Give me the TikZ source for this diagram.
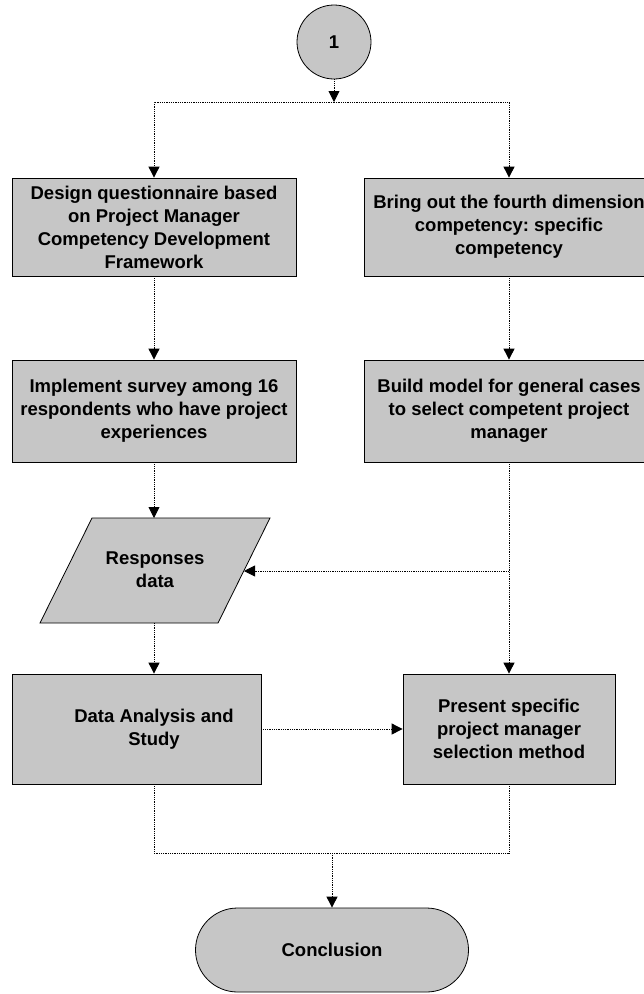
\documentclass[tikz,border=0pt]{standalone}
\usepackage{fontspec}
\setmainfont{Liberation Sans}
\usetikzlibrary{arrows.meta,shapes.misc}
\frenchspacing

\begin{document}
\begin{tikzpicture}[x=1pt,y=-1pt,
  flow/.style={draw=black, line width=0.8pt, fill=gray!45, inner sep=0pt,
    font=\bfseries\fontsize{18.5}{23}\selectfont, align=center},
  flowtext/.style={inner sep=0pt, font=\bfseries\fontsize{18.5}{23}\selectfont, align=center},
  plain/.style={line width=0.9pt, dash pattern=on 1pt off 0.8pt},
  link/.style={plain, -{Triangle[length=11pt,width=11pt]}}
]
\useasboundingbox (0,0) rectangle (644,994);
\clip (0,0) rectangle (644,994);

% start connector
\node[flow, circle, minimum size=74pt] (start) at (334,42) {1};
\coordinate (fork) at (334,102);

% left branch
\node[flow, minimum width=284pt, minimum height=98pt] (q) at (154,227)
  {Design questionnaire based\\on Project Manager\\Competency Development\\Framework};
\node[flow, minimum width=284pt, minimum height=102pt] (imp) at (154,411)
  {Implement survey among 16\\respondents who have project\\experiences};

% data (parallelogram)
\draw[flow] (40,623) -- (218,623) -- (270,518) -- (92,518) -- cycle;
\node[flowtext] (resp) at (155,570) {Responses\\data};
\coordinate (resp-top) at (154,518);
\coordinate (resp-bot) at (154,623);
\coordinate (resp-east) at (244,571);

\node[flow, minimum width=249pt, minimum height=110pt] (da) at (136.5,729) {};
\node[flowtext] (da-text) at (154,729) {Data Analysis and\\Study};

% right branch
\node[flow, minimum width=290pt, minimum height=98pt] (bo) at (509,227)
  {Bring out the fourth dimension\\competency: specific\\competency};
\node[flow, minimum width=290pt, minimum height=102pt] (bm) at (509,411)
  {Build model for general cases\\to select competent project\\manager};
\node[flow, minimum width=212pt, minimum height=110pt] (pres) at (509,729)
  {Present specific\\project manager\\selection method};
\coordinate (tap) at (509,571);

% end
\node[flow, rounded rectangle, minimum width=273pt, minimum height=84pt] (concl) at (332,950) {Conclusion};
\coordinate (merge) at (332,853);

% connectors
\draw[link] (start) -- (fork);
\draw[link] (fork) -| (q);
\draw[link] (fork) -| (bo);
\draw[link] (q) -- (imp);
\draw[link] (imp.south) -- (resp-top);
\draw[link] (bo) -- (bm);
\draw[link] (bm) -- (pres);
\draw[link] (tap) -- (resp-east);
\draw[link] (resp-bot) -- (resp-bot |- da.north);
\draw[link] (da) -- (pres);
\draw[plain] (resp-bot |- da.south) |- (merge) -| (pres.south);
\draw[link] (merge) -- (concl);
\end{tikzpicture}
\end{document}
